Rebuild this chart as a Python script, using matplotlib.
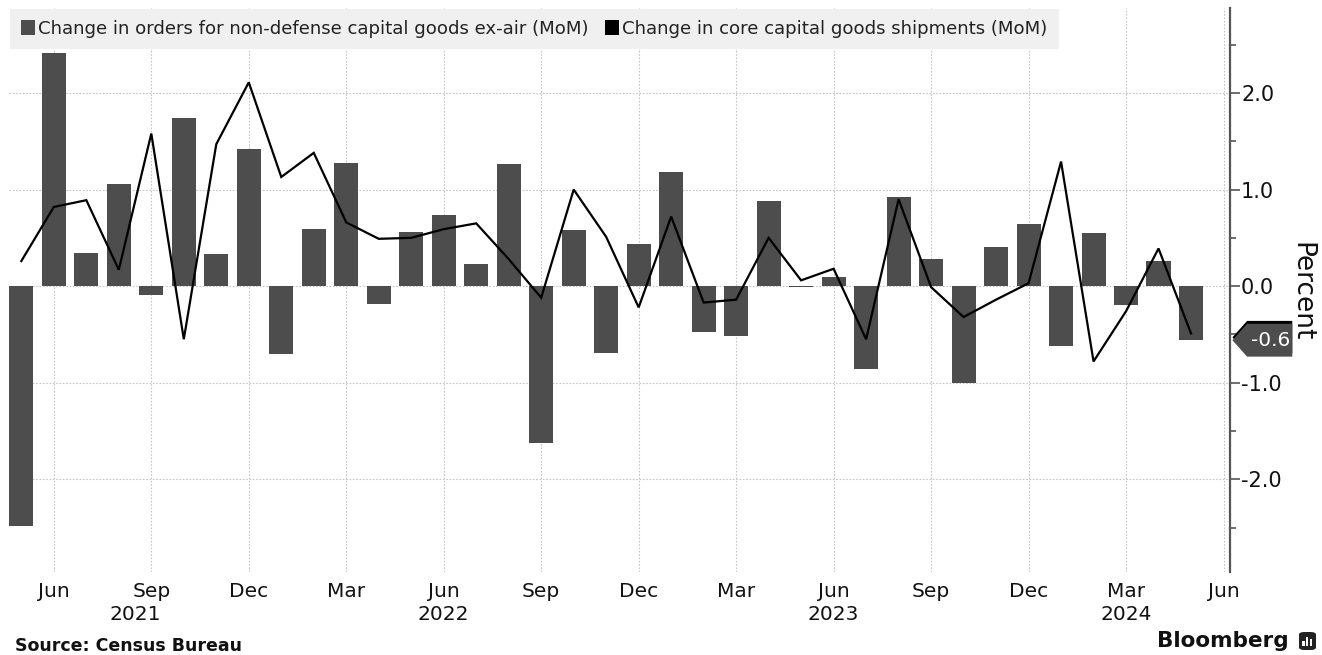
import matplotlib
matplotlib.use("Agg")
import matplotlib.pyplot as plt
import matplotlib.transforms as mtransforms
from matplotlib.patches import Patch, Polygon, FancyBboxPatch, Rectangle
import numpy as np
import pandas as pd

# ---------------- data ----------------
months = pd.period_range("2021-05", "2024-05", freq="M")
orders = [-2.48, 2.41, 0.34, 1.06, -0.09, 1.74, 0.33, 1.42,
          -0.70, 0.59, 1.28, -0.18, 0.56, 0.74, 0.23, 1.26, -1.62, 0.58, -0.69, 0.44,
          1.18, -0.48, -0.52, 0.88, -0.01, 0.09, -0.86, 0.92, 0.28, -1.00, 0.41, 0.64,
          -0.62, 0.55, -0.20, 0.26, -0.56]
shipments = [0.26, 0.82, 0.89, 0.17, 1.58, -0.55, 1.47, 2.11,
             1.13, 1.38, 0.66, 0.49, 0.50, 0.59, 0.65, 0.28, -0.12, 1.00, 0.51, -0.22,
             0.72, -0.17, -0.14, 0.50, 0.06, 0.18, -0.55, 0.90, -0.01, -0.32, -0.14, 0.03,
             1.29, -0.78, -0.26, 0.39, -0.49]
series_labels = ["Change in orders for non-defense capital goods ex-air (MoM)",
                 "Change in core capital goods shipments (MoM)"]
yticks = [-2.0, -1.0, 0.0, 1.0, 2.0]
years = [2021, 2022, 2023, 2024]

BAR = "#4d4d4d"
W, H = 1322, 655
fig = plt.figure(figsize=(W / 100, H / 100), dpi=100)
ax = fig.add_axes([9 / W, 1 - 572 / H, (1230 - 9) / W, (572 - 8) / H])

x = np.arange(len(months))
ax.bar(x, orders, width=0.74, color=BAR, zorder=2)
ax.plot(x, shipments, color="black", lw=1.6, zorder=3, solid_joinstyle="miter")

ax.set_xlim(-0.38, len(months) - 1 + 1.2)
ax.set_ylim(-2.96, 2.88)

# x ticks quarterly
qidx = [i for i, m in enumerate(months) if m.month in (3, 6, 9, 12)]
last = months[-1] + 1
tick_pos = qidx + ([len(months)] if last.month in (3, 6, 9, 12) else [])
tick_lab = [months[i].strftime("%b") for i in qidx] + ([last.strftime("%b")] if last.month in (3, 6, 9, 12) else [])
ax.set_xticks(tick_pos)
ax.set_xticklabels(tick_lab, fontsize=14.5, color="#111111")
ax.tick_params(axis="x", length=0, pad=7)

# y axis on right
ax.yaxis.tick_right()
ax.set_yticks(yticks)
ax.set_yticklabels([f"{v:.1f}" for v in yticks], fontsize=15, color="#111111")
ax.set_yticks(np.arange(-2.5, 2.6, 1.0), minor=True)
ax.tick_params(axis="y", which="major", direction="out", length=7, width=1.2, color="#555555", pad=1)
ax.tick_params(axis="y", which="minor", direction="out", length=4, width=1.2, color="#555555")

for s in ("left", "top", "bottom"):
    ax.spines[s].set_visible(False)
ax.spines["right"].set_color("#555555")
ax.spines["right"].set_linewidth(1.6)

ax.grid(True, which="major", axis="both", color="#c4c4c4", linestyle=(0, (1.5, 1.5)), linewidth=0.8, zorder=0)
ax.set_axisbelow(True)

# year labels
year_pos = {2021: 3.5, 2022: 13, 2023: 25, 2024: 34}
trans = mtransforms.blended_transform_factory(ax.transData, fig.transFigure)
for y in years:
    fig.text(year_pos[y], 1 - 614 / H, str(y), transform=trans, ha="center", va="center",
             fontsize=14.5, color="#111111")

# legend
handles = [Patch(facecolor=BAR, edgecolor="none"), Patch(facecolor="black", edgecolor="none")]
leg = ax.legend(handles, series_labels, ncol=2, loc="upper left", bbox_to_anchor=(0.0008, 0.998),
                frameon=True, fontsize=13.1, handlelength=0.75, handleheight=0.85, handletextpad=0.2,
                columnspacing=0.9, borderpad=0.6, borderaxespad=0.0, fancybox=False)
leg.get_frame().set_facecolor("#f0f0f0")
leg.get_frame().set_edgecolor("none")
leg.get_frame().set_alpha(1.0)
for t in leg.get_texts():
    t.set_color("#222222")

# Percent label
fig.text(1301 / W, 1 - 292 / H, "Percent", rotation=270, ha="center", va="center",
         fontsize=19, color="#111111")

# last-value labels
lab_trans = mtransforms.blended_transform_factory(ax.transAxes, ax.transData)
def value_tag(yval, color, dy=0.0):
    x0 = 1.002
    xt = 1.014
    x1 = 1.051
    h = 0.17
    yc = yval + dy
    pts = [(x0, yc), (xt, yc + h), (x1, yc + h), (x1, yc - h), (xt, yc - h)]
    p = Polygon(pts, closed=True, transform=lab_trans, facecolor=color, edgecolor="none",
                clip_on=False, zorder=5)
    ax.add_patch(p)

value_tag(shipments[-1], "black", dy=-0.04)
value_tag(orders[-1], BAR, dy=0.0)
ax.text(1.033, orders[-1], f"{orders[-1]:.1f}", transform=lab_trans, ha="center", va="center",
        fontsize=14.5, color="white", clip_on=False, zorder=6)

# footer
fig.text(15 / W, 1 - 646 / H, "Source: Census Bureau", fontsize=12.5, fontweight="bold",
         ha="left", va="center", color="#111111")
fig.text(1289 / W, 1 - 641 / H, "Bloomberg", fontsize=15.5, fontweight="bold",
         ha="right", va="center", color="#111111")
# small logo
lx, ly, lw, lh = 1299 / W, 1 - 650 / H, 17 / W, 18 / H
fig.patches.append(FancyBboxPatch((lx, ly), lw, lh, boxstyle="round,pad=0.0,rounding_size=0.004",
                                  transform=fig.transFigure, facecolor="#222222", edgecolor="none"))
for i, hh in enumerate([0.35, 0.6, 0.45]):
    fig.patches.append(Rectangle((lx + lw * (0.2 + 0.22 * i), ly + lh * 0.2), lw * 0.13, lh * hh * 0.9,
                                 transform=fig.transFigure, facecolor="white", edgecolor="none"))

fig.savefig("out.png", dpi=100, facecolor="white")
